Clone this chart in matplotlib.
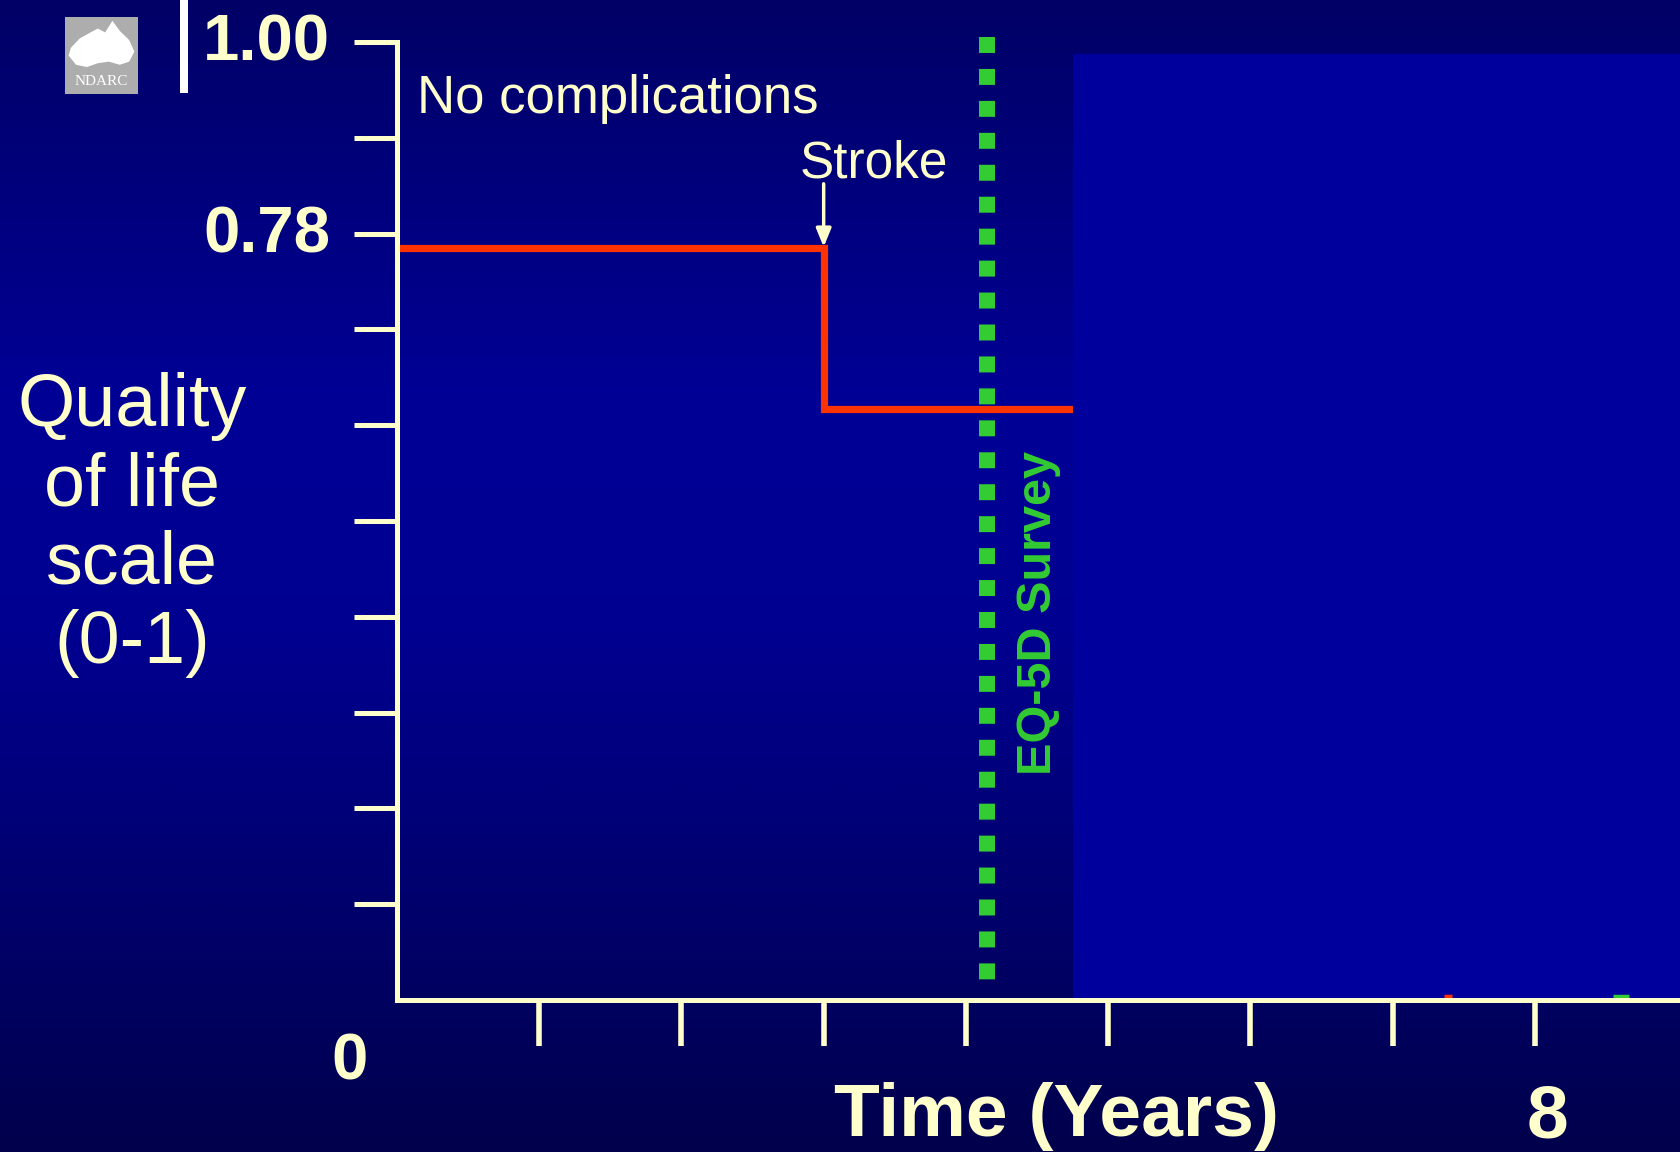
import numpy as np
import matplotlib
matplotlib.use("Agg")
import matplotlib.pyplot as plt
from matplotlib.patches import Rectangle, Polygon
from matplotlib.colors import LinearSegmentedColormap
from matplotlib.transforms import ScaledTranslation

# ---- data ----
step_x = [0, 3, 4.75]            # years
step_y = [0.785, 0.617, 0.617]   # quality of life
stroke_year = 3
survey_year = 4.15
cover_start = 4.75
ytick_vals = [0.1, 0.2, 0.3, 0.4, 0.5, 0.6, 0.7, 0.8, 0.9, 1.0]
ytick_labels = ["", "", "", "", "", "", "", "0.78", "", "1.00"]
xtick_vals = [1, 2, 3, 4, 5, 6, 7, 8]
residue_red_x = [7.36, 7.42]
residue_green_x = [8.55, 8.66]

CREAM = "#FFFFCC"
RED = "#FF3300"
GREEN = "#33CC33"
W, H, DPI = 1680, 1152, 100

plt.rcParams["font.family"] = ["Liberation Sans", "DejaVu Sans"]

fig = plt.figure(figsize=(W / DPI, H / DPI), dpi=DPI)

# background gradient
bg = fig.add_axes([0, 0, 1, 1], zorder=-10)
cmap = LinearSegmentedColormap.from_list(
    "bg", [(0.0, (0, 0, 102 / 255)), (0.35, (0, 0, 150 / 255)),
           (0.55, (0, 0, 144 / 255)), (1.0, (0, 0, 76 / 255))])
grad = np.linspace(0, 1, 512).reshape(-1, 1)
bg.imshow(grad, aspect="auto", cmap=cmap, extent=[0, 1, 1, 0])
bg.set_axis_off()

def px(x0, y0, x1, y1):
    return [x0 / W, 1 - y1 / H, (x1 - x0) / W, (y1 - y0) / H]

ax = fig.add_axes(px(397, 42, 1677, 1000))
ax.set_facecolor("none")
ax.set_xlim(0, 9)
ax.set_ylim(0, 1)

for s in ["top", "right"]:
    ax.spines[s].set_visible(False)
for s in ["left", "bottom"]:
    ax.spines[s].set_color(CREAM)
    ax.spines[s].set_linewidth(3.6)
    ax.spines[s].set_zorder(6)

ax.set_yticks(ytick_vals)
ax.set_yticklabels(ytick_labels)
ax.set_xticks(xtick_vals)
ax.set_xticklabels([])
ax.tick_params(axis="y", direction="out", length=31, width=3.6, color=CREAM,
               labelcolor=CREAM, labelsize=47, pad=17)
ax.tick_params(axis="x", direction="out", length=33, width=4, color=CREAM)
for lab in ax.get_yticklabels():
    lab.set_fontweight("bold")
    lab.set_transform(lab.get_transform() + ScaledTranslation(0, 5 / DPI, fig.dpi_scale_trans))

# red step line
ax.step(step_x, step_y, where="post", color=RED, lw=5.2, zorder=3,
        solid_joinstyle="miter")

# cover rectangle (animation reveal area)
ax.add_patch(Rectangle((cover_start, 0), 9 - cover_start + 0.2, 0.9875,
                       facecolor="#00009C", edgecolor="none", zorder=4, clip_on=False))

# small residue marks on the axis
ax.plot(residue_red_x, [0.004, 0.004], color=RED, lw=2.5, zorder=5,
        solid_capstyle="butt", clip_on=False)
ax.plot(residue_green_x, [0.004, 0.004], color=GREEN, lw=2.5, zorder=5,
        solid_capstyle="butt", clip_on=False)

# green dotted survey line
ax.plot([survey_year, survey_year], [1.005, 0.02], color=GREEN, lw=11.5,
        linestyle=(0, (1, 1)), dash_capstyle="butt", zorder=3, clip_on=False)
ax.text(4.51, 0.404, "EQ-5D Survey", rotation=90, color=GREEN, fontsize=35,
        fontweight="bold", ha="center", va="center", zorder=5)

# annotations
ax.text(0.14, 0.926, "No complications", color=CREAM, fontsize=38,
        ha="left", va="baseline", zorder=5)
ax.text(3.355, 0.859, "Stroke", color=CREAM, fontsize=37,
        ha="center", va="baseline", zorder=5)
ax.annotate("", xy=(stroke_year, 0.786), xytext=(stroke_year, 0.852),
            arrowprops=dict(arrowstyle="-|>,head_length=1.1,head_width=0.45",
                            color=CREAM, lw=2.5, shrinkA=0, shrinkB=0), zorder=5)

# axis labels / odd tick labels
fig.text(132 / W, 1 - 525 / H, "Quality\nof life\nscale\n(0-1)", color=CREAM,
         fontsize=53, ha="center", va="center", linespacing=1.18)
fig.text(1057 / W, 1 - 1136 / H, "Time (Years)", color=CREAM, fontsize=54,
         fontweight="bold", ha="center", va="baseline")
fig.text(1547 / W, 1 - 1138 / H, "8", color=CREAM, fontsize=54,
         fontweight="bold", ha="center", va="baseline")
fig.text(349 / W, 1 - 1080 / H, "0", color=CREAM, fontsize=47,
         fontweight="bold", ha="center", va="baseline")

# logo and white bar
lg = fig.add_axes(px(65, 17, 138, 94))
lg.set_xlim(0, 1)
lg.set_ylim(0, 1)
lg.set_axis_off()
lg.add_patch(Rectangle((0, 0), 1, 1, facecolor="#ADADAD", edgecolor="none"))
lg.add_patch(Polygon([(0.08, 0.6), (0.2, 0.72), (0.35, 0.8), (0.45, 0.85),
                      (0.55, 0.8), (0.65, 0.95), (0.75, 0.82), (0.88, 0.7),
                      (0.95, 0.55), (0.88, 0.42), (0.75, 0.38), (0.6, 0.42),
                      (0.45, 0.4), (0.3, 0.35), (0.15, 0.38), (0.05, 0.5)],
                     facecolor="white", edgecolor="none"))
lg.text(0.5, 0.08, "NDARC", color="white", fontsize=11, ha="center",
        va="bottom", family=["Liberation Serif", "DejaVu Serif"])

fig.add_artist(Rectangle((180 / W, 1 - 93 / H), 8 / W, 93 / H,
                         facecolor="white", edgecolor="none",
                         transform=fig.transFigure))

fig.savefig("out.png", dpi=DPI)
